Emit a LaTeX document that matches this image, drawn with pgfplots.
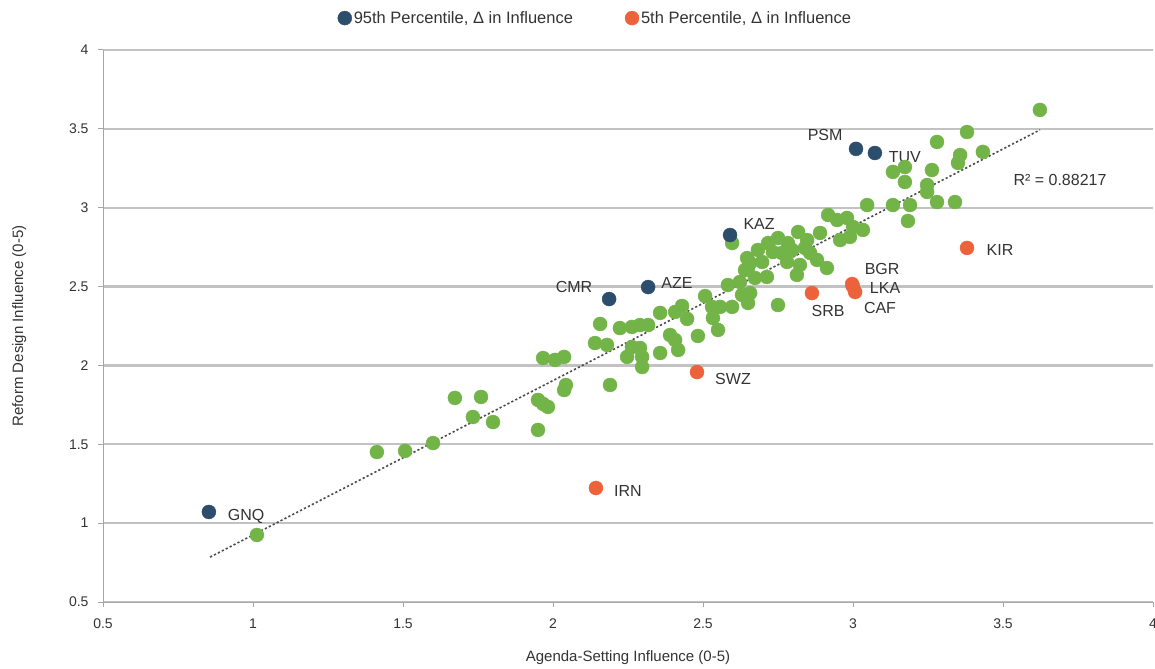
\documentclass[border=0pt]{standalone}
\usepackage{pgfplots}
\pgfplotsset{compat=1.18}
\usepackage{fontspec}
\setmainfont{Liberation Sans}

\definecolor{ptgreen}{RGB}{114,180,72}
\definecolor{ptblue}{RGB}{44,78,108}
\definecolor{ptred}{RGB}{236,98,58}

\begin{document}
\begin{tikzpicture}
\begin{axis}[
    scale only axis,
    width=1050pt, height=552pt,
    xmin=0.5, xmax=4, ymin=0.5, ymax=4,
    xtick={0.5,1,...,4}, ytick={0.5,1,...,4},
    axis x line*=bottom, axis y line*=left,
    axis line style={black!35, line width=1pt, -},
    tick align=outside, major tick length=5pt,
    tick style={black!35, line width=1pt},
    ymajorgrids, grid style={black!24, line width=2.2pt},
    /pgf/number format/assume math mode=true,
    ticklabel style={font=\fontsize{14}{16}\selectfont, text=black!80},
    xticklabel style={yshift=-8pt},
    yticklabel style={xshift=-6pt},
    xlabel={Agenda-Setting Influence (0-5)},
    ylabel={Reform Design Influence (0-5)},
    label style={font=\fontsize{15}{17}\selectfont, text=black!80},
    xlabel style={yshift=-15pt},
    ylabel style={yshift=36pt},
    legend columns=2,
    legend style={at={(0.469,1.038)}, anchor=south, draw=none, fill=none,
        font=\fontsize{16.5}{18}\selectfont, text=black!80,
        /tikz/every even column/.append style={column sep=50pt}},
    legend cell align=left,
]
% other countries
\addplot[only marks, mark=*, mark size=7pt, color=ptgreen, forget plot] coordinates {
(1.013,0.925) (1.413,1.451) (1.507,1.458) (1.600,1.508) (1.673,1.794)
(1.760,1.800) (1.733,1.673) (1.800,1.641) (1.950,1.781) (1.967,1.756)
(1.983,1.737) (1.950,1.591) (1.967,2.047) (2.007,2.035) (2.037,2.054)
(2.043,1.876) (2.037,1.844) (2.157,2.263) (2.140,2.142) (2.223,2.237)
(2.263,2.244) (2.290,2.256) (2.317,2.256) (2.357,2.333) (2.407,2.339)
(2.430,2.377) (2.447,2.295) (2.180,2.130) (2.247,2.054) (2.263,2.117)
(2.290,2.111) (2.297,2.054) (2.357,2.079) (2.390,2.193) (2.407,2.161)
(2.417,2.098) (2.483,2.187) (2.297,1.990) (2.190,1.876)
(2.507,2.440) (2.530,2.371) (2.533,2.301) (2.550,2.225) (2.583,2.510)
(2.597,2.371) (2.630,2.447) (2.650,2.396) (2.640,2.605) (2.657,2.650)
(2.597,2.776) (2.647,2.681) (2.650,2.618) (2.683,2.732) (2.717,2.776)
(2.750,2.808) (2.783,2.776) (2.763,2.713) (2.780,2.656) (2.817,2.846)
(2.847,2.795) (2.823,2.637) (2.813,2.574) (2.857,2.713) (2.880,2.669)
(2.913,2.618) (2.890,2.840) (2.917,2.954) (2.947,2.922) (2.980,2.935)
(3.000,2.878) (3.033,2.859) (3.047,3.017) (2.957,2.795) (2.990,2.815)
(2.623,2.529) (2.713,2.561) (2.673,2.555) (2.657,2.459) (2.750,2.383)
(2.557,2.371) (2.697,2.656) (2.733,2.719) (2.797,2.732) (2.840,2.745)
(3.623,3.620) (3.380,3.480) (3.280,3.417) (3.357,3.334) (3.350,3.284)
(3.433,3.354) (3.133,3.227) (3.173,3.258) (3.263,3.239) (3.173,3.163)
(3.247,3.144) (3.247,3.100) (3.133,3.017) (3.190,3.017) (3.280,3.036)
(3.340,3.036) (3.183,2.916)
};
% linear trend
\addplot[dash pattern=on 2.2pt off 2.2pt, line width=1.6pt, black!70, forget plot] coordinates {
(0.857,0.785) (3.623,3.493)
};
\addplot[only marks, mark=*, mark size=7pt, color=ptblue] coordinates {
(0.853,1.071) (2.187,2.421) (2.317,2.497) (2.590,2.827) (3.010,3.373) (3.073,3.347)
};
\addlegendentry{95th Percentile, Δ in Influence}
\addplot[only marks, mark=*, mark size=7pt, color=ptred] coordinates {
(2.143,1.223) (2.480,1.958) (2.863,2.459) (2.997,2.516) (3.000,2.500) (3.007,2.466) (3.380,2.745)
};
\addlegendentry{5th Percentile, Δ in Influence}

\begin{scope}[every node/.style={font=\fontsize{16}{18}\selectfont, text=black!80}]
\node at (axis cs:0.977,1.045) {GNQ};
\node at (axis cs:2.070,2.497) {CMR};
\node at (axis cs:2.413,2.523) {AZE};
\node at (axis cs:2.687,2.897) {KAZ};
\node at (axis cs:2.907,3.461) {PSM};
\node at (axis cs:3.173,3.322) {TUV};
\node at (axis cs:3.490,2.732) {KIR};
\node at (axis cs:3.097,2.612) {BGR};
\node at (axis cs:3.107,2.491) {LKA};
\node at (axis cs:3.090,2.364) {CAF};
\node at (axis cs:2.917,2.345) {SRB};
\node at (axis cs:2.600,1.914) {SWZ};
\node at (axis cs:2.250,1.204) {IRN};
\node at (axis cs:3.690,3.176) {R² = 0.88217};
\end{scope}
\end{axis}
\pgfresetboundingbox
\path[use as bounding box] ([xshift=-103pt,yshift=-66pt]current axis.south west) rectangle ([xshift=2pt,yshift=50pt]current axis.north east);
\end{tikzpicture}
\end{document}
